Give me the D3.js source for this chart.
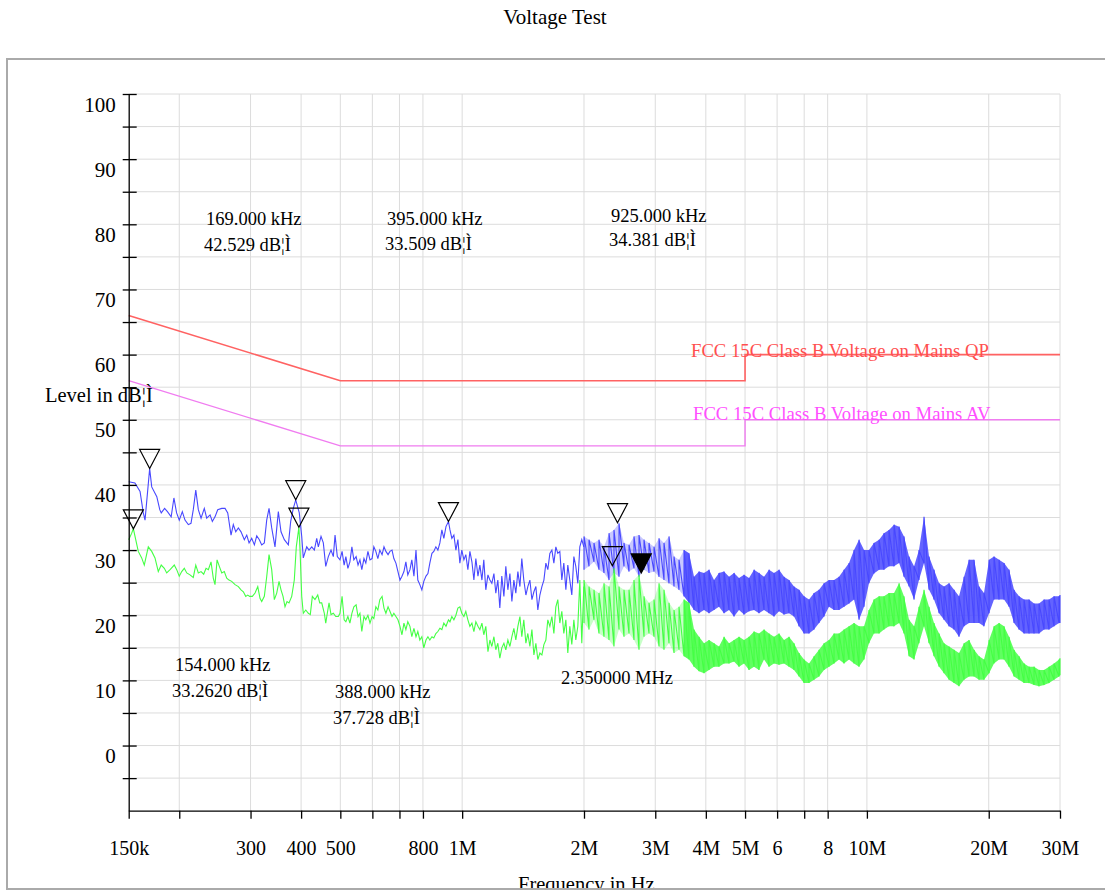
<!DOCTYPE html>
<html><head><meta charset="utf-8">
<script src="https://cdn.jsdelivr.net/npm/d3@7"></script>
<style>
body{margin:0;background:#fff;}
svg{display:block;}
</style></head><body>
<svg id="c" width="1105" height="895"></svg>
<script>
// ---------- DATA ----------
const chartTitle = "Voltage Test";
const yAxisTitle = "Level in dB¦Ì";
const xAxisTitle = "Frequency in Hz";

const xTickValues = [150e3,200e3,300e3,400e3,500e3,600e3,700e3,800e3,1e6,2e6,3e6,4e6,5e6,6e6,7e6,8e6,10e6,20e6,30e6];
const xTickLabels = ["150k","","300","400","500","","","800","1M","2M","3M","4M","5M","6","","8","10M","20M","30M"];
const yTickValues = [-5,0,5,10,15,20,25,30,35,40,45,50,55,60,65,70,75,80,85,90,95,100];
const yTickLabels = ["","0","","10","","20","","30","","40","","50","","60","","70","","80","","90","","100"];

// limit lines (MHz, dB)
const qpFreqMHz = [0.15, 0.5, 5, 5, 30];
const qpLevel   = [66, 56, 56, 60, 60];
const avFreqMHz = [0.15, 0.5, 5, 5, 30];
const avLevel   = [56, 46, 46, 50, 50];
const qpName = "FCC 15C Class B Voltage on Mains QP";
const avName = "FCC 15C Class B Voltage on Mains AV";

// blue trace, 150 kHz - 0.5 MHz (kHz, dB)
const blueLowFreqKHz = [150,155.4,160,163,164.6,169,171,176,179,180.5,184,187,191,194,197,200,203.5,206.6,210.6,213.8,216.6,219.7,222.9,226.4,230.6,233.8,238.3,241.4,245.1,248.9,254.7,259.5,263.5,268.5,272,275.8,279.9,284.2,289.6,293.6,297.5,302,306.6,310.8,315.4,319.7,324.5,328.9,333.3,338.4,344.8,351.4,356.8,363.6,372,377,382.6,388,395.9,401.4,405,413,418.4,425,431.3,437.2,441.2,448,453.9,460.2,467,474.2,480.5,485.2,491.5];
const blueLowLevel = [40.5,40.3,39.0,35.7,34.6,42.5,39.7,38.2,36.2,35.7,36.4,35.9,35.1,38.0,35.7,34.6,35.9,34.6,33.9,34.1,36.2,39.2,36.2,34.9,36.4,34.9,35.4,34.4,35.1,36.2,36.4,36.4,35.7,32.3,33.9,32.8,33.4,32.8,31.6,32.3,31.1,31.8,30.8,32.2,31.6,30.8,31.1,34.6,36.4,33.4,30.5,35.9,32.8,31.6,30.8,34.4,36.4,37.7,35.7,32.1,28.8,30.5,30.0,30.5,30.0,31.8,30.5,32.1,31.1,27.5,29.0,30.0,29.0,32.3,29.0];

// green trace, 150 kHz - 0.5 MHz (kHz, dB)
const greenLowFreqKHz = [150,152.6,154,158.4,161.5,163.9,167.7,171,174.2,177.5,180.5,183.7,186.2,189.8,194.4,197.1,200,202.8,205.8,208.7,212.6,216.6,219.7,222.9,226.4,229.8,232.9,236,239.6,242.7,245.1,248,251.2,254.7,258.4,262,265.4,269.5,274.7,279.9,284.2,288,291.9,295.2,298.6,303.1,307.8,312.6,316.6,319.7,324.5,328.9,333.3,338.4,343.5,348.2,352.8,356.8,360.9,365,369.2,373.4,379.2,384.8,389.2,395,397.6,401.4,405,410.7,416.8,421.5,426.4,432.9,439.7,444.7,449.8,456.5,460.2,464.3,468.9,474.2,480.5,487.1,494.3];
const greenLowLevel = [31.6,32.6,33.3,29.8,28.8,27.7,30.5,29.8,28.8,26.7,27.7,27.2,26.5,27.0,27.7,27.0,26.0,26.7,27.2,26.5,26.2,25.8,27.7,26.5,26.7,26.3,27.2,27.0,28.2,25.7,24.7,28.5,27.5,26.5,26.7,25.7,25.4,25.2,24.7,24.4,23.9,23.6,22.9,23.1,22.9,22.9,23.4,24.4,22.6,22.1,22.9,25.9,29.3,27.0,22.4,23.4,25.2,23.9,22.9,21.3,22.1,21.9,22.9,25.4,30.5,33.5,30.0,22.9,20.3,20.8,20.3,20.1,22.9,22.4,23.1,21.9,21.9,20.3,18.8,20.3,21.9,20.1,20.3,19.8,19.8];

// both traces, 0.5 - 2 MHz (kHz)
const midFreqKHz = [499,505,511,516,522,528,534,540,547,553,559,565,572,578,585,592,599,605,612,619,626,634,641,648,656,663,671,678,686,694,702,710,718,726,734,743,751,760,769,777,786,795,804,814,823,832,842,851,861,871,881,891,901,912,925,933,943,954,965,976,987,998,1010,1021,1033,1045,1057,1069,1081,1094,1106,1119,1131,1144,1158,1171,1184,1198,1211,1225,1239,1253,1268,1282,1297,1312,1327,1342,1357,1373,1389,1404,1420,1437,1453,1470,1487,1504,1521,1538,1556,1574,1592,1610,1628,1647,1666,1685,1704,1723,1743,1763,1783,1804,1824,1845,1866,1888,1909,1931,1953,1975,1998];
const blueMidLevel = [28.5,29.8,27.7,29.0,27.2,28.2,30.5,28.5,29.0,27.7,28.5,27.0,28.7,28.0,29.8,28.5,28.7,30.5,29.8,28.7,30.0,29.3,30.5,29.8,29.3,29.8,30.0,28.7,28.0,26.7,25.4,26.0,26.7,28.2,26.2,27.0,28.5,26.0,30.0,25.4,24.7,23.9,25.2,26.0,26.4,28.0,29.5,29.8,30.5,30.0,31.1,33.1,31.8,33.6,34.4,33.1,31.8,32.3,30.0,31.6,28.0,30.0,28.5,29.3,27.0,29.8,28.2,25.4,28.7,26.0,27.7,25.4,28.5,23.9,26.2,25.4,24.9,26.4,23.4,25.4,21.1,26.0,22.9,27.5,23.9,26.4,22.1,25.4,23.4,26.7,24.4,28.7,25.4,23.1,24.4,25.4,22.4,23.6,24.4,20.8,23.1,24.4,25.4,28.0,27.0,29.5,30.0,28.0,30.5,29.5,29.8,25.4,28.0,23.9,27.7,25.4,23.1,29.0,27.5,24.9,30.5,31.6,30.5];
const greenMidLevel = [20.3,22.9,19.3,19.0,19.8,18.8,20.3,21.3,21.6,19.8,20.3,17.5,19.8,19.3,20.0,18.8,19.8,19.5,21.3,20.8,22.4,22.9,21.1,20.3,21.3,20.6,19.8,20.3,19.8,19.3,18.3,17.0,18.8,17.8,19.0,18.3,16.7,18.0,16.7,17.5,16.2,16.7,15.0,16.2,16.7,16.2,16.7,16.5,17.2,17.5,18.0,17.8,18.8,18.3,19.3,19.0,19.8,19.3,20.0,21.1,21.3,20.3,19.8,20.6,19.3,18.3,18.8,17.5,19.0,18.3,17.8,18.8,17.0,18.3,14.4,16.2,15.2,16.7,14.7,15.7,13.4,15.0,15.7,14.7,16.2,15.2,16.7,18.0,16.2,18.3,19.8,16.7,19.3,15.7,17.2,15.2,17.8,13.9,15.7,13.2,14.2,13.9,15.5,16.2,19.3,18.3,19.8,17.2,21.3,22.4,18.8,20.6,17.2,19.3,14.2,18.3,15.5,19.3,16.2,18.3,25.4,15.7,24.4];

// 2 - 30 MHz: dense sweep, min/max envelope per frequency bin (MHz, dB)
const envFreqMHz = [2.000,2.058,2.117,2.178,2.241,2.306,2.372,2.441,2.511,2.584,2.658,2.735,2.814,2.895,2.979,3.065,3.153,3.244,3.338,3.434,3.533,3.635,3.740,3.848,3.959,4.073,4.191,4.311,4.436,4.564,4.696,4.831,4.971,5.114,5.262,5.413,5.570,5.730,5.896,6.066,6.241,6.421,6.606,6.797,6.993,7.195,7.402,7.616,7.836,8.062,8.295,8.534,8.780,9.034,9.294,9.563,9.839,10.12,10.41,10.72,11.02,11.34,11.67,12.01,12.35,12.71,13.08,13.45,13.84,14.24,14.65,15.08,15.51,15.96,16.42,16.89,17.38,17.88,18.40,18.93,19.47,20.04,20.61,21.21,21.82,22.45,23.10,23.77,24.45,25.16,25.88,26.63,27.40,28.19,29.00,29.84,30.0];
const blueHi = [32.1,31.6,31.1,31.6,30.5,32.6,33.1,34.1,31.1,30.8,32.1,32.3,31.6,31.1,30.5,31.8,31.1,32.1,29.0,28.5,30.0,29.5,25.9,26.7,26.5,27.0,25.4,26.5,26.7,25.9,26.5,25.7,26.2,25.7,27.0,26.5,25.9,27.0,26.5,27.0,25.9,25.4,24.4,23.9,22.9,22.4,23.4,23.9,24.9,25.4,25.4,25.9,27.0,28.0,30.0,31.6,30.0,30.0,31.1,31.6,32.6,33.1,33.9,33.6,32.1,29.0,27.5,30.0,35.1,29.0,27.0,24.9,24.4,24.9,23.9,22.9,25.9,28.5,28.5,24.4,23.4,28.5,29.0,28.5,28.0,27.0,23.9,22.9,22.4,22.4,21.8,21.8,22.4,22.4,22.9,22.9,23.1];
const blueLo = [27.0,27.5,28.2,27.0,26.5,25.4,26.5,25.9,27.5,26.7,27.2,25.9,27.0,26.5,26.7,25.9,25.4,24.9,24.4,23.9,22.9,21.9,20.8,20.3,20.8,20.3,20.8,21.3,20.3,20.8,19.8,20.8,20.1,20.6,20.8,20.3,20.8,20.3,19.8,20.6,20.1,20.3,19.8,18.3,17.2,17.2,17.8,18.8,19.8,21.3,20.8,20.8,21.3,21.8,22.4,19.3,21.3,24.9,26.4,27.0,27.0,27.5,27.5,28.0,25.9,24.4,22.4,25.4,28.0,23.9,22.4,20.3,19.3,18.3,17.8,16.7,18.3,18.8,18.8,18.8,18.3,20.3,22.4,22.4,22.4,21.3,18.8,17.8,17.2,17.2,17.2,17.2,17.8,17.8,18.3,18.8,18.8];
const greenHi = [25.4,24.4,23.9,23.4,24.9,24.4,27.2,24.4,23.9,23.9,25.4,26.2,22.9,21.9,22.4,24.9,23.9,21.9,20.8,21.3,22.4,21.9,17.8,16.7,15.7,16.2,15.7,15.2,16.7,15.7,16.2,16.7,16.2,16.7,17.5,17.2,17.8,17.2,16.7,17.2,16.2,16.7,15.7,14.2,13.2,12.6,13.7,14.7,15.7,16.2,17.2,17.2,17.8,18.3,18.8,18.3,18.3,20.8,22.4,22.9,22.9,23.4,23.4,24.9,22.9,19.3,18.3,21.3,23.9,21.3,18.8,17.2,15.7,15.2,14.7,14.2,15.7,16.2,14.7,13.7,13.2,16.2,18.3,18.8,18.3,16.7,14.7,13.7,12.6,12.1,12.1,11.6,11.6,12.1,12.6,13.2,13.4];
const greenLo = [18.8,17.8,19.3,17.2,16.7,16.2,15.2,17.8,16.7,17.2,16.2,14.7,16.7,17.2,16.7,15.2,14.7,15.7,14.2,14.7,13.7,13.2,12.1,11.4,11.1,11.6,12.1,12.1,12.6,12.6,12.9,12.1,12.6,11.6,12.1,11.6,13.2,12.1,12.6,12.4,12.6,12.1,11.6,10.6,9.6,9.6,10.1,10.6,11.6,12.1,12.6,13.2,12.6,13.2,12.6,12.1,13.2,15.7,17.2,17.2,17.8,18.3,18.3,18.8,17.2,13.7,13.2,15.7,18.3,15.7,13.7,12.1,11.1,10.1,9.6,9.1,10.1,10.6,10.6,10.1,10.1,11.1,12.6,13.2,13.2,12.1,10.6,10.1,9.6,9.6,9.3,9.1,9.3,9.6,10.1,10.6,10.8];

// peak markers (kHz, dB, filled)
const markerFreqKHz = [154, 169, 388, 395, 925, 2350, 2420, 2770];
const markerLevel   = [33.26, 42.53, 37.73, 33.51, 34.38, 27.6, 34.2, 26.5];
const markerFilled  = [false, false, false, false, false, false, false, true];

// marker readouts
const readoutLines = [
  ["169.000 kHz", "42.529 dB¦Ì"],
  ["395.000 kHz", "33.509 dB¦Ì"],
  ["925.000 kHz", "34.381 dB¦Ì"],
  ["154.000 kHz", "33.2620 dB¦Ì"],
  ["388.000 kHz", "37.728 dB¦Ì"],
  ["2.350000 MHz"]
];

// ---------- LAYOUT ----------
const FONT = "'Liberation Serif','Times New Roman',serif";
const BLUE = "#4848ff", GREEN = "#44ff44", QP = "#ff6262", AV = "#f07cf0";
const readoutPos = [[206,225,204,251],[387,225,385,250],[611,222,609,246],[175,671,172,697],[335,698,333,724],[561,684]];
const DENSE_FROM = 3.6e6;   // where the sweep trace becomes a solid band

const svg = d3.select("#c").style("font-family", FONT);
const x = d3.scaleLog().domain([150e3, 30e6]).range([128.7, 1060]);
const y = d3.scaleLinear().domain([-10, 100]).range([810.7, 94]);

// frame
svg.append("rect").attr("x",7).attr("y",59).attr("width",1200).attr("height",830)
  .attr("fill","#fff").attr("stroke","#aaaaaa").attr("stroke-width",2);

// title
svg.append("text").attr("x",555).attr("y",24).attr("text-anchor","middle")
  .attr("font-size",21).attr("fill","#000").text(chartTitle);

// grid
const grid = svg.append("g").attr("stroke","#dcdcdc").attr("stroke-width",1);
grid.selectAll("line.v").data(xTickValues.slice(1)).enter().append("line")
  .attr("x1",d=>x(d)).attr("x2",d=>x(d)).attr("y1",y(-10)).attr("y2",y(100));
grid.selectAll("line.h").data(yTickValues).enter().append("line")
  .attr("x1",x(150e3)).attr("x2",x(30e6)).attr("y1",d=>y(d)).attr("y2",d=>y(d));

// limit lines
const limLine = d3.line().x(d=>x(d[0]*1e6)).y(d=>y(d[1]));
svg.append("path").attr("d",limLine(qpFreqMHz.map((f,i)=>[f,qpLevel[i]])))
  .attr("fill","none").attr("stroke",QP).attr("stroke-width",1.6);
svg.append("path").attr("d",limLine(avFreqMHz.map((f,i)=>[f,avLevel[i]])))
  .attr("fill","none").attr("stroke",AV).attr("stroke-width",1.4);

// traces
function drawSeries(lowF, lowV, midV, hi, lo, color){
  const pts = lowF.map((f,i)=>[f*1e3, lowV[i]]).concat(midFreqKHz.map((f,i)=>[f*1e3, midV[i]]));
  svg.append("path").attr("d", d3.line().x(d=>x(d[0])).y(d=>y(d[1]))(pts))
    .attr("fill","none").attr("stroke",color).attr("stroke-width",1.1);
  const env = envFreqMHz.map((f,i)=>({f:f*1e6, hi:hi[i], lo:lo[i]}));
  const area = d3.area().x(d=>x(d.f)).y0(d=>y(d.lo)).y1(d=>y(d.hi));
  svg.append("path").attr("d", area(env.filter(d=>d.f<=DENSE_FROM*1.03)))
    .attr("fill",color).attr("opacity",0.3);
  svg.append("path").attr("d", area(env.filter(d=>d.f>=DENSE_FROM*0.97)))
    .attr("fill",color).attr("opacity",0.85);
  const zz = [];
  env.forEach(d=>{ zz.push([d.f,d.lo]); zz.push([d.f,d.hi]); });
  svg.append("path").attr("d", d3.line().x(d=>x(d[0])).y(d=>y(d[1]))(zz))
    .attr("fill","none").attr("stroke",color).attr("stroke-width",1.1);
}
drawSeries(blueLowFreqKHz, blueLowLevel, blueMidLevel, blueHi, blueLo, BLUE);
drawSeries(greenLowFreqKHz, greenLowLevel, greenMidLevel, greenHi, greenLo, GREEN);

// axes
const xAxis = d3.axisBottom(x).tickValues(xTickValues).tickSizeInner(8).tickSizeOuter(0)
  .tickFormat((d,i)=>xTickLabels[i]);
const gx = svg.append("g").attr("transform",`translate(0,${y(-10)})`).call(xAxis);
gx.selectAll("text").attr("y",44).attr("dy",0).attr("font-size",20).attr("font-family",FONT).attr("fill","#000");
const yAxis = d3.axisLeft(y).tickValues(yTickValues).tickSizeOuter(0)
  .tickFormat((d,i)=>yTickLabels[i]);
const gy = svg.append("g").attr("transform",`translate(${x(150e3)},0)`).call(yAxis);
gy.selectAll(".tick line").attr("x1",-6).attr("x2",8);
gy.selectAll("text").attr("x",-13).attr("dy",0).attr("y",17).attr("font-size",21).attr("font-family",FONT).attr("fill","#000");
[gx,gy].forEach(g=>{ g.selectAll("path,line").attr("stroke","#000").attr("stroke-width",1.3); });

// limit names
svg.append("text").attr("x",691).attr("y",357).attr("font-size",18.7).attr("fill","#ff4f4f").text(qpName);
svg.append("text").attr("x",693).attr("y",420).attr("font-size",18.7).attr("fill","#ff4fff").text(avName);

// markers
markerFreqKHz.forEach((f,i)=>{
  const px = x(f*1e3), py = y(markerLevel[i]);
  svg.append("path").attr("d", `M${px},${py} L${px-10},${py-19} L${px+10},${py-19} Z`)
    .attr("fill", markerFilled[i] ? "#000" : "none").attr("stroke","#000").attr("stroke-width",1.2);
});

// readouts
readoutLines.forEach((lines,i)=>{
  const p = readoutPos[i];
  lines.forEach((t,j)=>{
    svg.append("text").attr("x",p[j*2]).attr("y",p[j*2+1]).attr("font-size",18.5).attr("fill","#000").text(t);
  });
});

// axis titles
svg.append("text").attr("x",45).attr("y",402).attr("font-size",20.5).attr("fill","#000").text(yAxisTitle);
svg.append("text").attr("x",518).attr("y",891).attr("font-size",20.5).attr("fill","#000").text(xAxisTitle);
svg.append("rect").attr("x",0).attr("y",889).attr("width",1105).attr("height",6).attr("fill","#fff");
svg.append("line").attr("x1",6).attr("x2",1105).attr("y1",889).attr("y2",889).attr("stroke","#aaaaaa").attr("stroke-width",2);
</script>
</body></html>
